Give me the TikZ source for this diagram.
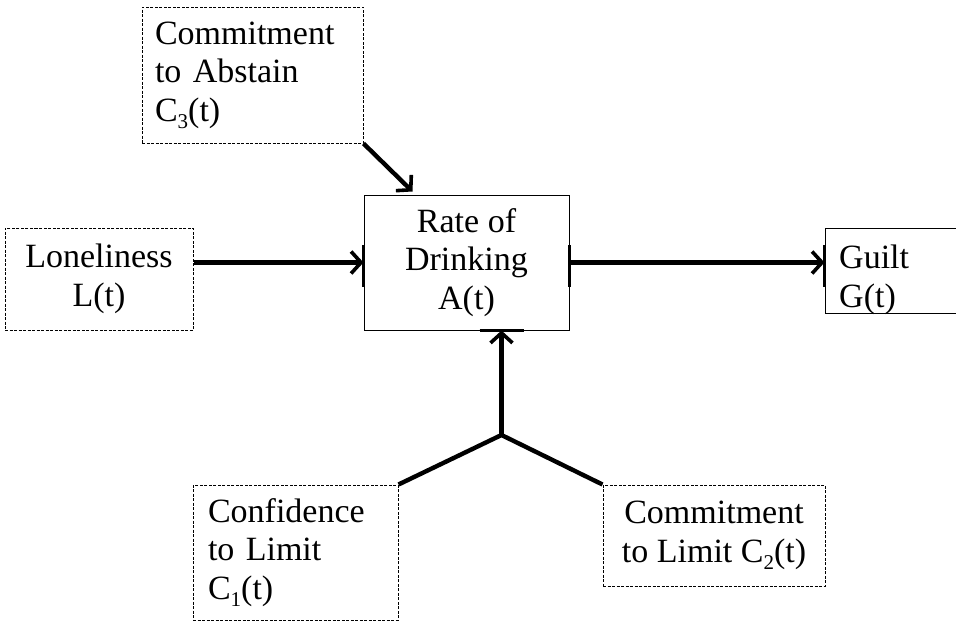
\documentclass[tikz,border=0pt]{standalone}
\usepackage{fontspec}
\setmainfont{Liberation Serif}
\usetikzlibrary{arrows.meta,calc}
\newcommand\lowidx[1]{\raisebox{-0.45ex}{\fontsize{21}{21}\selectfont #1}}
\begin{document}
\begin{tikzpicture}[x=1pt,y=-1pt,
  txt/.style={font=\fontsize{34}{38.5}\selectfont},
  inbox/.style={draw, line width=1pt, dash pattern=on 3pt off 1.5pt, inner sep=0pt, txt},
  solidbox/.style={draw, line width=1pt, inner sep=0pt, txt},
  flow/.style={line width=4.4pt, -{Straight Barb[length=10pt,width=22pt,line width=3.6pt]}},
  link/.style={line width=4.4pt, line join=round},
  sitemark/.style={line width=3.2pt}
]
\useasboundingbox (0,0) rectangle (956,621);
\clip (0,0) rectangle (956,621);

\node[inbox, minimum width=221pt, minimum height=136pt, text width=195pt] (c3) at (252.5,75) {\parindent0pt Commitment\\to Abstain\\C\lowidx{3}(t)};
\node[inbox, minimum width=188pt, minimum height=102pt, align=center] (lon) at (99,279) {Loneliness\\L(t)};
\node[solidbox, minimum width=205pt, minimum height=135pt, align=center] (rate) at (466.5,262.5) {Rate of\\Drinking\\A(t)};
\node[solidbox, minimum width=205pt, minimum height=85pt] (gbox) at (927.5,270.5) {};
\node[txt, anchor=west, inner sep=0pt, text width=100pt] (gtext) at (839,280) {\parindent0pt Guilt\\G(t)};
\node[inbox, minimum width=205pt, minimum height=135pt, text width=175pt] (c1) at (295.5,552.5) {\parindent0pt Confidence\\to Limit\\C\lowidx{1}(t)};
\node[inbox, minimum width=222pt, minimum height=101pt, align=center] (c2) at (714,535.5) {Commitment\\to Limit C\lowidx{2}(t)};

\coordinate (junc) at (501.5,435);
\coordinate (rbot) at (junc |- rate.south);

\draw[sitemark] ($(rate.west)+(0,-17.5)$) -- ($(rate.west)+(0,24.5)$);
\draw[sitemark] ($(rate.east)+(0,-17.5)$) -- ($(rate.east)+(0,24.5)$);
\draw[sitemark] ($(gbox.west)+(0,-25.5)$) -- ($(gbox.west)+(0,16.5)$);
\draw[sitemark] ($(rbot)+(-22,0)$) -- ($(rbot)+(22,0)$);

\draw[flow] (lon.east |- rate.west) -- (rate.west);
\draw[flow] (rate.east) -- (gbox.west |- rate.east);
\draw[flow] (c3.south east) -- ($(rate.north west)+(49,-3)$);
\draw[link] (c1.north east) -- (junc) -- (c2.north west);
\draw[flow] (junc) -- (rbot);
\end{tikzpicture}
\end{document}
